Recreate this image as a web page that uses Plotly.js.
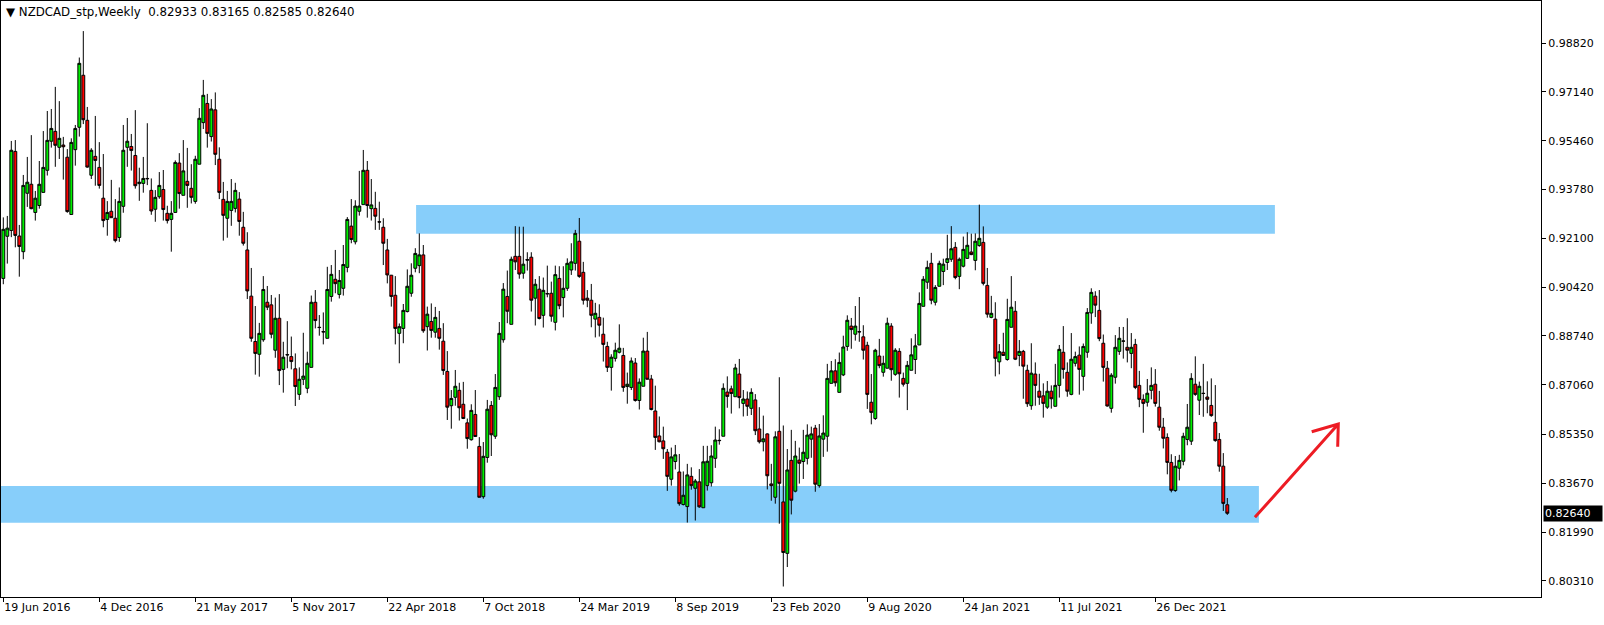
<!DOCTYPE html>
<html>
<head>
<meta charset="utf-8">
<script src="https://cdn.plot.ly/plotly-3.0.1.min.js"></script>
<style>html,body{margin:0;padding:0;background:#fff;}#chart{width:1604px;height:625px;}</style>
</head>
<body>
<div id="chart"></div>
<script>
// NZDCAD weekly candles, one per week starting 19 Jun 2016 (index 0)
const symbolTitle = "\u25BC NZDCAD_stp,Weekly  0.82933 0.83165 0.82585 0.82640";

const openP = [
.9072,.9217,.9237,.9509,.9218,.9164,.9365,.9396,.9299,.9323,
.9368,.9444,.9544,.9578,.9523,.9531,.9489,.9292,.9515,.9592,
.9771,.9616,.9427,.9492,.9454,.9348,.9275,.9303,.9279,.9213,
.9320,.9523,.9526,.9495,.9398,.9399,.9416,.9375,.9310,.9353,
.9378,.9296,.9275,.9299,.9469,.9358,.9406,.9382,.9337,.9465,
.9608,.9674,.9560,.9652,.9482,.9344,.9279,.9306,.9313,.9345,
.9248,.9170,.9011,.8855,.8811,.8861,.8990,.8981,.8825,.8935,
.8759,.8810,.8803,.8761,.8673,.8725,.8694,.8766,.8990,.8904,
.8889,.8866,.9010,.9069,.9017,.9038,.9110,.9252,.9198,.9303,
.9326,.9444,.9312,.9313,.9267,.9248,.9170,.9083,.9014,.8883,
.8900,.8958,.9021,.9107,.9116,.9153,.8906,.8924,.8887,.8900,
.8856,.8752,.8634,.8663,.8687,.8639,.8575,.8517,.8604,.8494,
.8321,.8456,.8635,.8529,.8665,.8861,.9010,.8914,.9148,.9148,
.9090,.9137,.9145,.9004,.9035,.8945,.9020,.9021,.8921,.9072,
.9006,.9038,.9101,.9124,.9200,.9093,.9004,.8997,.8932,.8938,
.8880,.8838,.8766,.8797,.8818,.8807,.8700,.8697,.8781,.8652,
.8701,.8822,.8726,.8616,.8530,.8513,.8474,.8381,.8442,.8406,
.8294,.8287,.8391,.8350,.8372,.8283,.8359,.8369,.8453,.8515,
.8529,.8681,.8692,.8665,.8743,.8642,.8657,.8625,.8654,.8554,
.8510,.8537,.8365,.8319,.8546,.8303,.8126,.8446,.8340,.8447,
.8442,.8453,.8519,.8557,.8359,.8519,.8529,.8711,.8754,.8680,
.8740,.8838,.8908,.8880,.8889,.8871,.8842,.8646,.8590,.8805,
.8749,.8763,.8908,.8742,.8821,.8728,.8711,.8756,.8793,.8843,
.8976,.9059,.9124,.8990,.9045,.9096,.9127,.9138,.9179,.9079,
.9114,.9141,.9163,.9134,.9185,.9196,.9048,.8938,.8932,.8785,
.8818,.8793,.8904,.8959,.8807,.8821,.8756,.8634,.8743,.8684,
.8668,.8629,.8684,.8632,.8704,.8818,.8749,.8673,.8780,.8808,
.8735,.8818,.8953,.9011,.8962,.8849,.8763,.8625,.8732,.8821,
.8857,.8835,.8814,.8845,.8704,.8656,.8646,.8687,.8708,.8629,
.8560,.8525,.8439,.8342,.8419,.8443,.8518,.8512,.8708,.8653,
.8677,.8664,.8635,.8577,.8518,.8426,.82933];

const highP = [
.9282,.9287,.9545,.9548,.9256,.9428,.9490,.9565,.9373,.9476,
.9579,.9648,.9655,.9731,.9682,.9559,.9517,.9554,.9600,.9832,
.9923,.9662,.9520,.9631,.9541,.9500,.9338,.9411,.9345,.9385,
.9600,.9624,.9569,.9651,.9453,.9490,.9606,.9416,.9376,.9438,
.9445,.9322,.9338,.9478,.9503,.9548,.9521,.9465,.9494,.9658,
.9755,.9707,.9689,.9712,.9523,.9404,.9373,.9414,.9401,.9369,
.9301,.9231,.9108,.8977,.8919,.9080,.9046,.9015,.9006,.9018,
.8854,.8925,.8872,.8814,.8766,.8885,.8820,.9013,.9032,.8946,
.8955,.9112,.9118,.9170,.9101,.9187,.9283,.9345,.9341,.9442,
.9514,.9476,.9414,.9370,.9336,.9279,.9208,.9084,.9080,.8917,
.8984,.9103,.9124,.9176,.9227,.9187,.8975,.8986,.8974,.8960,
.8918,.8822,.8688,.8757,.8713,.8716,.8590,.8639,.8688,.8526,
.8509,.8654,.8650,.8743,.8922,.9056,.9099,.9147,.9252,.9250,
.9250,.9162,.9162,.9070,.9080,.9075,.9116,.9061,.9116,.9114,
.9114,.9141,.9193,.9239,.9280,.9129,.9032,.9053,.8988,.8983,
.8937,.8854,.8811,.8851,.8914,.8833,.8748,.8800,.8798,.8728,
.8868,.8888,.8740,.8703,.8597,.8562,.8485,.8490,.8499,.8468,
.8408,.8434,.8422,.8382,.8416,.8496,.8496,.8498,.8562,.8553,
.8711,.8735,.8703,.8778,.8795,.8688,.8683,.8694,.8674,.8629,
.8600,.8539,.8434,.8546,.8732,.8566,.8485,.8551,.8513,.8490,
.8551,.8570,.8562,.8568,.8571,.8601,.8778,.8788,.8794,.8817,
.8875,.8945,.8936,.8977,.9008,.8911,.8854,.8743,.8830,.8864,
.8806,.8937,.8918,.8832,.8832,.8748,.8788,.8866,.8881,.9024,
.9080,.9133,.9160,.9049,.9133,.9140,.9222,.9252,.9197,.9144,
.9216,.9231,.9226,.9227,.9326,.9251,.9108,.9012,.8990,.8846,
.8885,.9002,.9080,.8994,.8860,.8826,.8775,.8849,.8783,.8744,
.8711,.8719,.8704,.8778,.8843,.8908,.8783,.8884,.8820,.8838,
.8848,.8970,.9038,.9028,.9032,.8879,.8788,.8746,.8877,.8905,
.8905,.8935,.8884,.8864,.8754,.8673,.8726,.8766,.8760,.8685,
.8592,.8539,.8467,.8461,.8465,.8541,.8640,.8746,.8804,.8717,
.8778,.8718,.8728,.8705,.8540,.8471,.83165];

const lowP = [
.9052,.9123,.9214,.9179,.9078,.9138,.9318,.9310,.9271,.9312,
.9368,.9426,.9522,.9456,.9483,.9412,.9298,.9292,.9460,.9560,
.9603,.9453,.9414,.9391,.9381,.9248,.9219,.9281,.9196,.9198,
.9298,.9456,.9443,.9381,.9339,.9367,.9393,.9291,.9267,.9346,
.9271,.9261,.9164,.9299,.9312,.9358,.9315,.9330,.9329,.9465,
.9586,.9522,.9543,.9462,.9345,.9202,.9212,.9253,.9299,.9219,
.9185,.9001,.8854,.8741,.8734,.8854,.8963,.8866,.8799,.8705,
.8679,.8763,.8759,.8633,.8654,.8705,.8677,.8766,.8900,.8875,
.8845,.8866,.8992,.9021,.9003,.9013,.9093,.9193,.9189,.9288,
.9326,.9281,.9271,.9239,.9239,.9118,.9055,.8975,.8845,.8780,
.8849,.8955,.9009,.9093,.9090,.8885,.8824,.8868,.8868,.8827,
.8740,.8585,.8555,.8634,.8583,.8588,.8486,.8514,.8528,.8319,
.8314,.8438,.8461,.8520,.8654,.8851,.8918,.8914,.9101,.9071,
.9071,.9099,.8958,.8910,.8931,.8903,.9007,.8923,.8893,.8966,
.8938,.9029,.9084,.9099,.9074,.8982,.8973,.8904,.8869,.8872,
.8786,.8750,.8686,.8786,.8814,.8682,.8641,.8688,.8648,.8621,
.8701,.8725,.8618,.8482,.8508,.8451,.8341,.8359,.8415,.8290,
.8291,.8232,.8345,.8239,.8283,.8283,.8342,.8356,.8420,.8500,
.8529,.8627,.8607,.8665,.8625,.8597,.8599,.8602,.8533,.8504,
.8477,.8346,.8307,.8297,.8228,.8012,.8079,.8260,.8336,.8366,
.8382,.8432,.8455,.8338,.8352,.8458,.8476,.8711,.8700,.8680,
.8736,.8823,.8830,.8858,.8854,.8793,.8623,.8570,.8585,.8763,
.8734,.8763,.8720,.8737,.8662,.8700,.8619,.8756,.8743,.8843,
.8976,.9036,.8983,.8979,.9045,.9049,.9101,.9129,.9069,.9035,
.9110,.9139,.9152,.9100,.9181,.9048,.8937,.8935,.8735,.8742,
.8805,.8789,.8904,.8791,.8770,.8658,.8630,.8620,.8634,.8637,
.8593,.8623,.8624,.8632,.8662,.8727,.8665,.8670,.8769,.8672,
.8686,.8799,.8916,.8939,.8856,.8717,.8631,.8610,.8710,.8809,
.8796,.8783,.8763,.8691,.8629,.8541,.8631,.8656,.8631,.8548,
.8487,.8398,.8336,.8338,.8377,.8429,.8498,.8499,.8668,.8602,
.8596,.8608,.8596,.8510,.8407,.8272,.82585];

const closeP = [
.9241,.9245,.9513,.9220,.9182,.9392,.9403,.9312,.9348,.9396,
.9454,.9547,.9588,.9530,.9554,.9525,.9302,.9540,.9588,.9812,
.9618,.9455,.9513,.9478,.9392,.9271,.9299,.9281,.9202,.9337,
.9513,.9544,.9512,.9391,.9403,.9416,.9415,.9304,.9351,.9392,
.9309,.9271,.9296,.9471,.9364,.9442,.9392,.9351,.9482,.9623,
.9702,.9571,.9655,.9499,.9368,.9289,.9337,.9337,.9375,.9268,
.9193,.9029,.8866,.8814,.8883,.9034,.8973,.8880,.8935,.8755,
.8801,.8809,.8786,.8700,.8725,.8736,.8780,.8990,.8927,.8903,
.8888,.9034,.9086,.9054,.9065,.9120,.9275,.9206,.9321,.9321,
.9444,.9323,.9325,.9286,.9266,.9193,.9084,.9010,.8900,.8906,
.8962,.9045,.9083,.9158,.9153,.8892,.8949,.8893,.8938,.8866,
.8755,.8629,.8659,.8701,.8627,.8590,.8521,.8618,.8528,.8319,
.8460,.8622,.8534,.8697,.8883,.9035,.8959,.9138,.9129,.9087,
.9121,.9135,.8997,.9052,.8934,.9031,.9019,.8942,.9085,.8978,
.9038,.9124,.9129,.9227,.9079,.8997,.8997,.8945,.8952,.8911,
.8845,.8766,.8801,.8825,.8832,.8697,.8708,.8788,.8652,.8715,
.8822,.8725,.8621,.8525,.8510,.8486,.8391,.8458,.8465,.8297,
.8326,.8396,.8359,.8375,.8286,.8441,.8443,.8461,.8516,.8514,
.8694,.8666,.8676,.8764,.8662,.8657,.8632,.8680,.8548,.8510,
.8520,.8393,.8359,.8527,.8367,.8129,.8413,.8309,.8461,.8436,
.8474,.8533,.8537,.8364,.8530,.8540,.8728,.8754,.8713,.8783,
.8836,.8928,.8896,.8908,.8888,.8825,.8673,.8611,.8825,.8772,
.8780,.8918,.8758,.8825,.8744,.8708,.8773,.8809,.8840,.8986,
.9069,.9110,.8997,.9041,.9124,.9121,.9140,.9174,.9075,.9138,
.9172,.9186,.9154,.9200,.9210,.9055,.8949,.8952,.8797,.8820,
.8807,.8931,.8973,.8794,.8821,.8770,.8641,.8746,.8704,.8663,
.8642,.8684,.8658,.8704,.8828,.8759,.8684,.8794,.8803,.8759,
.8838,.8955,.9024,.8980,.8865,.8766,.8633,.8739,.8835,.8866,
.8856,.8825,.8835,.8697,.8656,.8642,.8677,.8704,.8642,.8560,
.8522,.8439,.8343,.8426,.8446,.8529,.8560,.8728,.8673,.8701,
.8676,.8656,.8600,.8514,.8426,.8298,.82640];

// Axis labels
const dateLabels = ["19 Jun 2016","4 Dec 2016","21 May 2017","5 Nov 2017","22 Apr 2018","7 Oct 2018",
  "24 Mar 2019","8 Sep 2019","23 Feb 2020","9 Aug 2020","24 Jan 2021","11 Jul 2021","26 Dec 2021"];
const weeksPerLabel = 24;
const priceTicks = [0.98820,0.97140,0.95460,0.93780,0.92100,0.90420,0.88740,0.87060,0.85350,0.83670,0.81990,0.80310];
const lastPrice = 0.82640;

// Zones (price bands) and their week spans
const resistanceZone = {from: 103.2, to: 317.9, low: 0.92259, high: 0.93246};
const supportZone    = {from: -2,    to: 313.9, low: 0.82315, high: 0.83578};
// Drawn arrow: tail, tip, and the two head ends (week index, price)
const arrowTail = [312.9, 0.82501];
const arrowTip  = [333.75, 0.85711];
const arrowArmA = [327.1, 0.85446];
const arrowArmB = [333.6, 0.84930];

const xIdx = openP.map((_, i) => i);
const tickIdx = dateLabels.map((_, k) => k * weeksPerLabel);
const fnt = {family: 'DejaVu Sans', size: 11, color: '#000'};

const trace = {
  type: 'candlestick',
  x: xIdx, open: openP, high: highP, low: lowP, close: closeP,
  increasing: {line: {color: '#000', width: 1}, fillcolor: '#00F000'},
  decreasing: {line: {color: '#000', width: 1}, fillcolor: '#FF0000'},
  whiskerwidth: 0,
  hoverinfo: 'skip'
};

const zoneShape = (z) => ({
  type: 'rect', xref: 'x', yref: 'y', layer: 'below',
  x0: z.from, x1: z.to, y0: z.low, y1: z.high,
  fillcolor: '#87CEFA', line: {width: 0}
});

const arrowPath = 'M ' + arrowTail.join(',') + ' L ' + arrowTip.join(',') +
  ' M ' + arrowArmA.join(',') + ' L ' + arrowTip.join(',') + ' L ' + arrowArmB.join(',');

const layout = {
  width: 1604, height: 625,
  margin: {l: 1, r: 63, t: 1, b: 28, pad: 0},
  paper_bgcolor: '#fff', plot_bgcolor: '#fff',
  showlegend: false,
  boxgap: 0.15, boxgroupgap: 0.15,
  xaxis: {
    range: [-0.575, 384.425], showgrid: false, zeroline: false,
    showline: true, mirror: true, linecolor: '#000', linewidth: 1,
    ticks: 'outside', ticklen: 4, tickcolor: '#000',
    tickvals: tickIdx, ticktext: dateLabels,
    ticklabelposition: 'outside right',
    tickfont: fnt, rangeslider: {visible: false}, fixedrange: true
  },
  yaxis: {
    side: 'right', range: [0.79759, 1.00265], showgrid: false, zeroline: false,
    showline: true, mirror: true, linecolor: '#000', linewidth: 1,
    ticks: 'outside', ticklen: 4, tickcolor: '#000',
    tickvals: priceTicks, ticktext: priceTicks.map(v => v.toFixed(5)),
    tickfont: fnt, fixedrange: true
  },
  shapes: [
    zoneShape(resistanceZone),
    zoneShape(supportZone),
    {type: 'path', xref: 'x', yref: 'y', path: arrowPath,
     line: {color: '#ED1C24', width: 3}}
  ],
  annotations: [
    {xref: 'paper', yref: 'paper', x: 0, y: 1, xanchor: 'left', yanchor: 'top',
     xshift: 3, yshift: -2, showarrow: false, text: symbolTitle,
     font: {family: 'DejaVu Sans', size: 11.8, color: '#000'}},
    {xref: 'paper', yref: 'y', x: 1, y: lastPrice, xanchor: 'left', yanchor: 'middle',
     xshift: 2, showarrow: false, text: lastPrice.toFixed(5),
     bgcolor: '#000', borderpad: 1, width: 56, align: 'left',
     font: {family: 'DejaVu Sans', size: 11, color: '#fff'}}
  ]
};

Plotly.newPlot('chart', [trace], layout, {staticPlot: true, displayModeBar: false});
</script>
</body>
</html>
